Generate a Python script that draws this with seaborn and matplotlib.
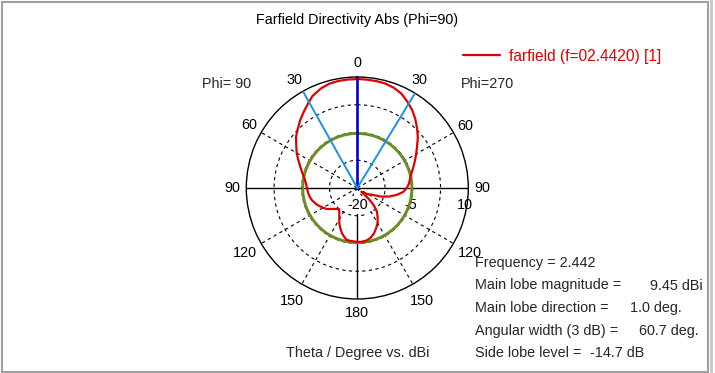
import numpy as np
import pandas as pd
import matplotlib
matplotlib.use("Agg")
import matplotlib.pyplot as plt
from matplotlib.patches import Rectangle
import seaborn as sns

# ---------------- data ----------------
theta_deg = [-180, -176, -172, -168, -165, -161, -157, -153, -149, -144, -141, -139,
             -136, -131, -124.5, -118, -112, -105, -100, -95, -90, -85, -80, -77,
             -70, -64, -60, -55, -50, -45, -40, -35, -30, -26, -20, -15, -10, -5,
             0, 1, 5, 10, 15, 20, 25, 30, 35, 40, 45, 50, 55, 60, 65, 70, 75, 80,
             85, 90, 95, 100, 105, 110, 115, 120, 125, 130, 132.5, 133.5, 135, 137,
             140, 145, 150, 155, 160, 165, 170, 175, 180]
directivity_dbi = [-5.41, -5.54, -5.59, -5.73, -6.35, -7.14, -8.24, -9.30, -10.54, -11.73, -12.22, -12.43,
                   -12.11, -11.38, -9.97, -9.05, -8.14, -7.30, -6.89, -6.62, -6.41, -6.08, -5.54, -5.00,
                   -3.65, -2.19, -1.08, 0.14, 1.62, 2.70, 4.00, 5.19, 6.49, 7.65, 8.65, 9.19, 9.38, 9.43,
                   9.43, 9.45, 9.40, 9.35, 9.24, 8.84, 8.16, 7.00, 5.80, 4.38, 2.84, 1.35, -0.27, -1.62, -2.84, -3.92, -4.86, -5.54,
                   -5.95, -6.62, -7.57, -9.19, -11.08, -13.24, -15.73, -16.68, -17.30, -17.97, -18.51, -15.95, -14.59, -13.24,
                   -11.78, -10.41, -9.05, -7.97, -6.89, -6.08, -5.59, -5.41, -5.41]

series_label = "farfield (f=02.4420) [1]"
title_text = "Farfield Directivity Abs (Phi=90)"
axis_caption = "Theta / Degree vs. dBi"
phi_left, phi_right = "Phi= 90", "Phi=270"

angle_ticks = [0, 30, 60, 90, 120, 150, 180]
radial_min, radial_max = -20, 10
radial_tick_values = [-20, -5, 10]
grid_circle_values = [-12.5, -5, 2.5]

frequency = 2.442
main_lobe_magnitude = 9.45
main_lobe_direction = 1.0
angular_width = 60.7
side_lobe_level = -14.7

# ---------------- style ----------------
sns.set_theme(style="white")
plt.rcParams["font.family"] = ["Liberation Sans", "DejaVu Sans"]
FS = 10.4
RED = "#e00000"
GREEN = "#6b8e23"
DBLUE = "#0000cd"
LBLUE = "#1e8fe8"

W, H = 715, 373
fig = plt.figure(figsize=(W / 100, H / 100), dpi=100)
fig.patch.set_facecolor("white")


def fx(x):
    return x / W


def fy(y):
    return 1 - y / H


cx, cy, R = 357.3, 188.0, 111.0
ax = fig.add_axes([(cx - R) / W, (H - cy - R) / H, 2 * R / W, 2 * R / H], projection="polar")
ax.set_facecolor("white")
ax.set_theta_zero_location("N")
ax.set_theta_direction(-1)
ax.set_rlim(radial_min, radial_max)
ax.grid(False)
ax.set_xticks([])
ax.set_yticks([])
ax.spines["polar"].set_color("black")
ax.spines["polar"].set_linewidth(1.0)

full = np.linspace(0, 2 * np.pi, 721)
dash = (0, (3, 3))
for v in grid_circle_values:
    ax.plot(full, np.full_like(full, v), color="black", ls=dash, lw=0.8, zorder=1)
for a in angle_ticks[1:-1]:
    if a in (30, 90):
        continue
    for s in (-1, 1):
        ax.plot([np.deg2rad(s * a)] * 2, [radial_min, radial_max], color="black", ls=dash, lw=0.8, zorder=1)

# solid axes
for a in (-90, 90):
    ax.plot([np.deg2rad(a)] * 2, [radial_min, radial_max], color="black", lw=1.0, zorder=2)
ax.plot([np.pi] * 2, [-13.5, radial_max], color="black", lw=1.0, zorder=2)

# side lobe level circle
sll_abs = main_lobe_magnitude + side_lobe_level
ax.plot(full, np.full_like(full, sll_abs), color=GREEN, lw=2.1, zorder=3)

# radial labels
rad_offsets = {-20: (0, -17), -5: (-2, -17), 10: (-3, -17)}
for v in radial_tick_values:
    lab = f"{v:d}"
    ax.annotate(lab, xy=(np.pi / 2, v), xytext=rad_offsets[v], textcoords="offset pixels",
                ha="center", va="center", fontsize=FS, color="black", zorder=2.5,
                annotation_clip=False,
                bbox=dict(boxstyle="square,pad=0.15", fc="white", ec="none") if v == -20 else None)

# pattern
df = pd.DataFrame({"theta": np.deg2rad(theta_deg), "D": directivity_dbi})
sns.lineplot(data=df, x="theta", y="D", sort=False, color=RED, lw=1.6, ax=ax,
             label=series_label, legend=False, zorder=4)
ax.set_xlabel("")
ax.set_ylabel("")
ax.set_rlim(radial_min, radial_max)

# main lobe + half-power lines
ax.plot([np.deg2rad(0)] * 2, [radial_min, radial_max], color=DBLUE, lw=1.9, zorder=5)
for a in (main_lobe_direction - angular_width / 2, main_lobe_direction + angular_width / 2):
    ax.plot([np.deg2rad(a)] * 2, [radial_min, radial_max], color=LBLUE, lw=1.4, zorder=5)


# angle labels
def r_from_px(p):
    return radial_min + p / R * (radial_max - radial_min)


for a in angle_ticks:
    rp = 130 if a in (120, 150) else 125
    for s in ((1,) if a in (0, 180) else (-1, 1)):
        ax.text(np.deg2rad(s * a), r_from_px(rp), f"{a}", ha="center", va="center",
                fontsize=FS, color="black", clip_on=False)

# texts
fig.text(fx(357), fy(20), title_text, ha="center", va="center", fontsize=FS, color="black")
fig.text(fx(227), fy(84), phi_left, ha="center", va="center", fontsize=FS)
fig.text(fx(487.5), fy(84), phi_right, ha="center", va="center", fontsize=FS)
fig.text(fx(357.5), fy(353), axis_caption, ha="center", va="center", fontsize=FS)

handles, labels = ax.get_legend_handles_labels()
leg = fig.legend(handles, labels, loc="center left", bbox_to_anchor=(fx(463), fy(56)),
                 frameon=False, fontsize=FS + 0.8, handlelength=2.4, handletextpad=0.55,
                 borderpad=0, borderaxespad=0)
for t in leg.get_texts():
    t.set_color(RED)
for h in leg.legend_handles:
    h.set_linewidth(1.6)

xl = 475
rows = [
    (263.3, "Frequency = " + f"{frequency:.3f}", None, None),
    (285.5, "Main lobe magnitude =", f"{main_lobe_magnitude:.2f} dBi", 650),
    (308.0, "Main lobe direction =", f"{main_lobe_direction:.1f} deg.", 630),
    (330.5, "Angular width (3 dB) =", f"{angular_width:.1f} deg.", 639),
    (352.7, "Side lobe level =", f"{side_lobe_level:.1f} dB", 590),
]
for y, lab, val, xv in rows:
    fig.text(fx(xl), fy(y), lab, ha="left", va="center", fontsize=FS)
    if val is not None:
        fig.text(fx(xv), fy(y), val, ha="left", va="center", fontsize=FS)

# window frame
fig.patches.append(Rectangle((fx(1.5), fy(371.5)), fx(708) - fx(1.5), fy(1.5) - fy(371.5),
                             transform=fig.transFigure, fill=False, ec="#a0a0a0", lw=1.5))
fig.add_artist(plt.Line2D([fx(711), fx(711)], [0, 1], transform=fig.transFigure, color="#c8c8c8", lw=2))

fig.savefig("out.png", dpi=100, facecolor="white")
